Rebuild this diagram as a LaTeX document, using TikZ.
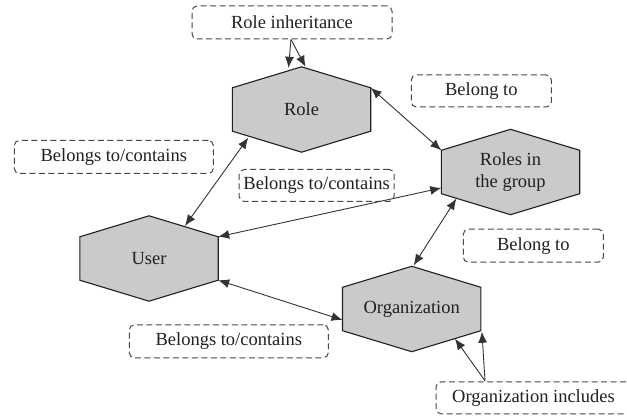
\documentclass[tikz,border=0pt]{standalone}
\usepackage{fontspec}
\setmainfont{Liberation Serif}
\usetikzlibrary{arrows.meta,calc,backgrounds}
\definecolor{hexfill}{HTML}{C9CACC}
\definecolor{hexedge}{HTML}{231F20}
\definecolor{dashcol}{HTML}{484848}
\definecolor{arrcol}{HTML}{333333}
\definecolor{txt}{HTML}{231F20}
\begin{document}
\begin{tikzpicture}[x=1pt,y=-1pt,
  hexnode/.style={minimum width=138pt,minimum height=85pt,inner sep=0pt,align=center,
    font=\fontsize{18.5}{21.5}\selectfont,text=txt},
  hexline/.style={draw=hexedge,fill=hexfill,line width=1.1pt,line join=miter},
  lbl/.style={draw=dashcol,dash pattern=on 6pt off 3.5pt,rounded corners=5pt,line width=1pt,
    inner sep=0pt,font=\fontsize{18.5}{21.5}\selectfont,text=txt},
  tipA/.tip={Latex[length=11pt,width=9pt]},
  conn/.style={draw=arrcol,line width=0.9pt,-tipA},
  conn2/.style={draw=arrcol,line width=0.9pt,tipA-tipA}]
\useasboundingbox (0,0) rectangle (627,419);
% hexagon nodes
\node[hexnode] (role) at (301.5,109.5) {Role};
\node[hexnode] (user) at (149,258.5) {User};
\node[hexnode] (rg) at (510.5,172) {Roles in\\the group};
\node[hexnode] (org) at (411.7,309) {Organization};
\begin{scope}[on background layer]
\foreach \n in {role,user,rg,org}
  \draw[hexline] (\n.north) -- ($(\n.north east)+(0,21)$) -- ($(\n.south east)+(0,-21)$)
    -- (\n.south) -- ($(\n.south west)+(0,-21)$) -- ($(\n.north west)+(0,21)$) -- cycle;
\end{scope}
% label boxes
\node[lbl,minimum width=200pt,minimum height=33pt] (ri) at (292,22.5) {Role inheritance};
\node[lbl,minimum width=140pt,minimum height=32pt] (bt1) at (481.3,91) {Belong to};
\node[lbl,minimum width=199pt,minimum height=33pt] (bc1) at (113.8,157) {Belongs to/contains};
\node[lbl,minimum width=155pt,minimum height=32pt] (bc2) at (316.7,185.5) {Belongs to/contains};
\node[lbl,minimum width=140pt,minimum height=33pt] (bt2) at (533.3,245.7) {Belong to};
\node[lbl,minimum width=199pt,minimum height=33pt] (bc3) at (228.8,341.3) {Belongs to/contains};
\node[lbl,minimum width=195pt,minimum height=32pt] (oi) at (533.5,397.8) {Organization includes};
% connectors
\draw[conn] ($(ri.south)+(-1,0)$) -- ($(role.north)+(-13,1)$);
\draw[conn] ($(ri.south)+(-1,0)$) -- ($(role.north)+(4,0)$);
\draw[conn2] ($(role.north east)+(0,21)$) -- ($(rg.north west)+(0,21)$);
\draw[conn2] ($(role.south west)+(16,-14.5)$) -- ($(user.north)+(36,10)$);
\draw[conn2] ($(rg.west)+(0,16)$) -- ($(user.north east)+(0,21)$);
\draw[conn2] ($(rg.south west)+(15,-16)$) -- ($(org.north)+(2,-1)$);
\draw[conn2] ($(user.south east)+(0,-21)$) -- ($(org.west)+(0,11)$);
\draw[conn] ($(oi.north)+(-48.5,-0.5)$) -- ($(org.south)+(43.3,-13)$);
\draw[conn] ($(oi.north)+(-48.5,-0.5)$) -- ($(org.south east)+(1,-20)$);
\end{tikzpicture}
\end{document}
